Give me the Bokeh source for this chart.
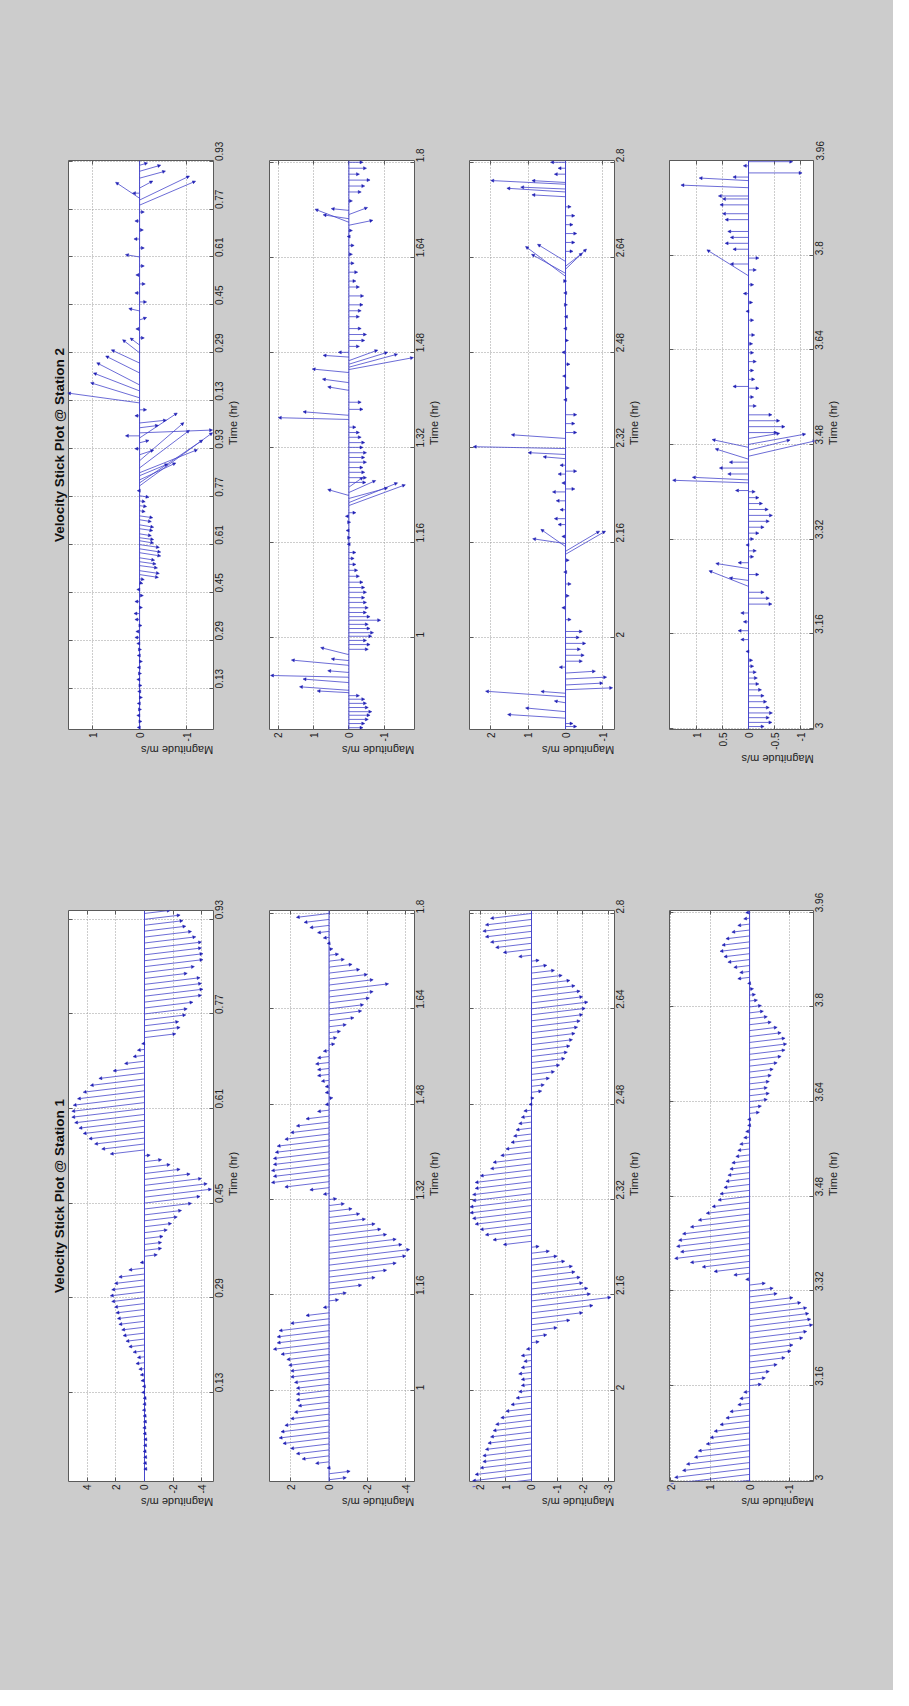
import math
from bokeh.plotting import figure
from bokeh.models import (Range1d, FixedTicker, LinearAxis, Title, Arrow,
                          NormalHead, ColumnDataSource, Span)
from bokeh.layouts import row, column
from bokeh.embed import file_html
from bokeh.resources import INLINE

# ------------------------------------------------------------------ data
STATION_TITLES = ["Velocity Stick Plot @ Station 2", "Velocity Stick Plot @ Station 1"]
TIME_LABEL = "Time (hr)"
MAG_LABEL = "Magnitude m/s"

# Station 1: regularly sampled north component, one list per panel
S1_SAMPLE_STEP = 0.01
S1_START = [0.00, 0.85, 1.85, 3.00]
S1P1_NORTH = [0.05, 0.08, 0.06, 0.1, 0.07, 0.05, 0.1, 0.12, 0.08, 0.1, 0.15, 0.12, 0.1, 0.2, 0.15, 0.25, 0.3, 0.4, 0.6, 0.5,
              0.8, 1.1, 1.3, 1.5, 1.6, 1.8, 1.9, 2.0, 2.1, 2.3, 2.4, 2.3, 2.1, 1.8, 1.1, 0.3,
              -0.9, -1.2, -1.2, -1.3, -1.6, -1.9, -2.3, -2.6, -3.3, -3.9, -4.7, -4.4, -4.0, -3.2, -2.5, -1.8, -1.2, -0.4,
              2.4, 3.0, 3.5, 3.9, 4.3, 4.6, 4.9, 5.1, 5.1, 5.0, 4.7, 4.3, 3.8, 3.2, 2.2, 1.4, 0.8, 0.5, 0.2,
              -2.2, -2.5, -2.4, -2.9, -3.0, -3.4, -4.0, -4.1, -4.0, -3.9, -3.0, -3.5, -4.1, -4.1, -4.0, -4.0, -3.6, -3.3,
              -2.9, -2.7, -2.5, -1.8]
S1P2_NORTH = [-0.9, -1.1, 0.1, 0.7, 1.4, 1.7, 2.0, 2.4, 2.6, 2.5, 2.3, 2.0, 1.8, 1.6, 1.7, 1.7, 1.7, 1.8, 2.0, 2.0,
              2.1, 2.2, 2.5, 2.9, 2.7, 2.7, 2.6, 2.0, 1.2, 0.3,
              -0.5, -0.9, -1.7, -2.4, -3.0, -3.5, -4.0, -4.2, -3.8, -3.5, -3.0, -2.7, -2.4, -1.9, -1.6, -1.2, -0.8, -0.4,
              0.3, 1.0, 2.3, 3.0, 2.9, 3.0, 2.9, 2.9, 2.8, 2.7, 2.3, 2.0, 1.7, 1.2, 0.6, 0.2,
              -0.2, 0.2, 0.2, 0.4, 0.6, 0.6, 0.7, 0.6, 0.3,
              -0.3, -0.4, -0.6, -0.9, -1.3, -1.7, -1.8, -2.1, -2.3, -3.1, -2.3, -2.0, -1.6, -1.2, -0.8, -0.5, -0.2,
              0.1, 0.3, 0.6, 1.0, 1.3, 1.7]
S1P3_NORTH = [2.3, 2.3, 2.2, 2.0, 1.9, 1.9, 1.8, 1.7, 1.6, 1.5, 1.4, 1.2, 1.0, 0.8, 0.6, 0.5, 0.4, 0.4, 0.5, 0.4, 0.3, 0.4, 0.2,
              -0.3, -0.6, -1.0, -1.5, -2.0, -2.4, -3.1, -2.3, -2.2, -2.0, -1.9, -1.7, -1.6, -1.3, -1.0, -0.7, -0.3,
              1.1, 1.5, 1.8, 2.0, 2.2, 2.3, 2.4, 2.4, 2.3, 2.3, 2.2, 2.2, 2.0, 1.6, 1.5, 1.2, 1.0, 0.8, 0.7, 0.6, 0.5,
              0.4, 0.3, 0.1,
              -0.1, -0.4, -0.5, -0.7, -0.9, -1.1, -1.3, -1.4, -1.5, -1.6, -1.7, -1.8, -1.9, -2.0, -2.1, -2.2, -2.0,
              -1.9, -1.7, -1.5, -1.2, -0.9, -0.6, -0.3,
              0.5, 1.1, 1.4, 1.6, 1.8, 1.9, 1.8, 1.6]
S1P4_NORTH = [2.1, 2.0, 1.9, 1.7, 1.6, 1.4, 1.3, 1.1, 1.0, 0.9, 0.75, 0.6, 0.5, 0.3, 0.25, 0.15,
              -0.3, -0.4, -0.5, -0.7, -0.9, -1.05, -1.1, -1.35, -1.45, -1.6, -1.55, -1.5, -1.45, -1.3, -1.1, -0.7,
              -0.6, -0.4,
              0.1, 0.4, 0.9, 1.2, 1.5, 1.9, 1.75, 1.85, 1.8, 1.7, 1.5, 1.3, 1.1, 0.95, 0.8, 0.75, 0.65, 0.6, 0.55,
              0.5, 0.45, 0.35, 0.3, 0.25, 0.15, 0.1, 0.05, 0.05,
              -0.25, -0.3, -0.45, -0.5, -0.45, -0.5, -0.55, -0.6, -0.7, -0.8, -0.9, -0.94, -0.9, -0.8, -0.7, -0.55,
              -0.45, -0.35, -0.3, -0.2, -0.15, -0.1,
              0.05, 0.3, 0.25, 0.4, 0.55, 0.65, 0.75, 0.7, 0.6, 0.45, 0.3, 0.15, 0.1]
S1_NORTH = [S1P1_NORTH, S1P2_NORTH, S1P3_NORTH, S1P4_NORTH]

# Station 2: irregular sticks (time, north, east)
S2P1 = [(0.00, 0.05, 0), (0.02, -0.05, 0), (0.04, 0.06, 0), (0.06, -0.04, 0), (0.08, 0.05, 0), (0.10, -0.06, 0),
        (0.12, 0.04, 0), (0.14, -0.05, 0), (0.16, 0.06, 0), (0.18, -0.04, 0), (0.20, 0.05, 0), (0.22, -0.06, 0),
        (0.24, 0.05, 0), (0.26, -0.04, 0), (0.28, 0.06, 0), (0.30, 0.1, 0), (0.32, 0.08, 0), (0.34, -0.05, 0),
        (0.36, 0.1, 0), (0.38, 0.12, 0), (0.40, -0.06, 0), (0.42, 0.1, 0), (0.44, -0.08, 0), (0.46, 0.06, 0),
        (0.483, -0.07, -0.02), (0.496, -0.1, -0.02), (0.51, -0.4, -0.06), (0.523, -0.42, -0.06), (0.54, -0.38, -0.05),
        (0.553, -0.35, -0.05), (0.566, -0.32, -0.05), (0.583, -0.45, -0.07), (0.596, -0.45, -0.07),
        (0.61, -0.42, -0.06), (0.623, -0.3, -0.05), (0.633, -0.3, -0.04), (0.646, -0.25, -0.04), (0.663, -0.28, -0.04),
        (0.676, -0.3, -0.05), (0.693, -0.25, -0.04), (0.706, -0.28, -0.04), (0.723, -0.12, -0.02), (0.74, -0.15, -0.02),
        (0.756, -0.12, -0.02), (0.773, -0.2, -0.03), (0.79, 0.05, 0), (0.806, -1.55, 1.13), (0.816, -1.34, 0.91),
        (0.826, -0.77, 0.36), (0.84, -0.6, 0.25), (0.85, -1.23, 0.49), (0.866, -1.06, 0.8), (0.89, -0.94, 0.81),
        (0.91, -0.3, 0.1), (0.93, 0.1, 0), (0.95, -0.2, 0.05), (0.966, -0.8, 0.53), (0.973, 0.3, 0),
        (0.983, -1.55, 0.06), (1.0, -0.4, 0.05), (1.016, -0.57, 0.06), (1.04, 0.1, 0), (1.06, -0.15, 0),
        (1.083, 1.53, 0.21), (1.1, 1.04, 0.32), (1.123, 0.98, 0.38), (1.143, 0.91, 0.47), (1.183, 0.72, 0.36),
        (1.216, 0.6, 0.28), (1.25, 0.36, 0.28), (1.276, 0.2, 0.15),
        (1.30, -0.1, 0), (1.33, 0.08, 0), (1.36, -0.15, 0.05), (1.39, 0.23, 0.05), (1.42, -0.15, 0), (1.45, 0.1, 0),
        (1.48, -0.12, 0), (1.51, 0.08, 0), (1.54, -0.1, 0), (1.57, 0.3, 0.05), (1.60, -0.1, 0), (1.63, 0.12, 0),
        (1.66, -0.08, 0), (1.69, 0.1, 0), (1.72, -0.1, 0),
        (1.743, -1.19, 0.51), (1.76, -1.06, 0.51), (1.766, 0.51, 0.34), (1.783, 0.15, 0), (1.8, -0.28, 0.15),
        (1.833, -0.55, 0.15), (1.856, -0.45, 0.13), (1.876, -0.17, 0.05)]
S2P2 = [(0.848, -0.4, 0), (0.855, -0.45, 0), (0.862, -0.55, 0), (0.869, -0.6, 0), (0.875, -0.65, 0), (0.882, -0.55, 0),
        (0.889, -0.5, 0), (0.896, -0.45, 0), (0.902, -0.3, 0), (0.907, 0.9, 0.05), (0.911, 1.4, 0.1), (0.924, 1.3, 0.1),
        (0.933, 2.22, 0.05), (0.941, 0.6, 0.05), (0.953, 1.63, 0.15), (0.961, 0.5, 0.05), (0.971, 0.8, 0.2),
        (0.98, -0.55, 0), (0.988, -0.6, 0), (0.995, -0.5, 0), (1.002, -0.65, 0), (1.008, -0.7, 0), (1.015, -0.6, 0),
        (1.022, -0.55, 0), (1.029, -0.9, 0), (1.035, -0.6, 0), (1.042, -0.5, 0), (1.05, -0.55, 0), (1.059, -0.5, 0),
        (1.067, -0.45, 0), (1.076, -0.5, 0), (1.084, -0.45, 0), (1.093, -0.4, 0), (1.103, -0.3, 0), (1.113, -0.25, 0),
        (1.123, -0.2, 0), (1.133, -0.15, 0), (1.143, -0.2, 0), (1.157, 0.05, 0), (1.168, -0.05, 0), (1.18, 0.08, 0),
        (1.194, -0.05, 0), (1.204, 0.1, 0), (1.21, -0.2, 0), (1.222, -1.6, 0.59), (1.227, -1.38, 0.56),
        (1.234, -1.1, 0.3), (1.239, 0.6, 0.17), (1.244, -0.76, 0.34), (1.253, -0.4, 0.28), (1.261, -0.48, 0),
        (1.269, -0.5, 0), (1.278, -0.45, 0), (1.286, -0.4, 0), (1.295, -0.5, 0), (1.303, -0.45, 0), (1.311, -0.5, 0),
        (1.32, -0.4, 0), (1.328, -0.45, 0), (1.337, -0.35, 0), (1.345, -0.3, 0), (1.354, -0.2, 0), (1.367, 2.0, 0.05),
        (1.374, 1.3, 0.1), (1.384, -0.4, 0), (1.396, -0.35, 0), (1.416, 0.6, 0.1), (1.429, 0.75, 0.1),
        (1.446, 1.04, 0.1), (1.451, -1.83, 0.34), (1.455, -1.38, 0.37), (1.46, -1.1, 0.34), (1.466, -0.82, 0.3),
        (1.472, 0.73, 0.05), (1.48, 0.3, 0), (1.49, -0.3, 0), (1.50, -0.45, 0), (1.51, -0.5, 0), (1.52, -0.35, 0),
        (1.54, -0.3, 0), (1.55, -0.35, 0), (1.56, -0.4, 0), (1.575, -0.42, 0), (1.59, -0.3, 0), (1.60, -0.2, 0),
        (1.615, -0.25, 0), (1.63, -0.15, 0), (1.645, -0.1, 0), (1.66, -0.15, 0), (1.675, 0.05, 0), (1.685, -0.1, 0),
        (1.694, -0.68, 0.14), (1.699, 0.96, 0.37), (1.705, 0.73, 0.11), (1.712, -0.53, 0.2), (1.719, 0.5, 0.05),
        (1.735, -0.1, 0), (1.75, -0.35, 0), (1.76, -0.45, 0), (1.77, -0.6, 0), (1.78, -0.3, 0), (1.79, -0.5, 0),
        (1.80, -0.4, 0)]
S2P3 = [(1.85, -0.3, 0), (1.855, -0.2, 0), (1.864, 1.55, 0.1), (1.875, 1.07, 0.1), (1.89, 0.3, 0.05),
        (1.9, 2.14, 0.15), (1.906, 0.66, 0.05), (1.912, -1.26, 0.05), (1.92, -1.0, 0.05), (1.93, -1.1, 0.05),
        (1.94, -0.8, 0.05), (1.95, 0.17, 0), (1.96, -0.45, 0), (1.97, -0.5, 0), (1.98, -0.4, 0), (1.99, -0.54, 0),
        (2.0, -0.37, 0), (2.01, -0.45, 0), (2.03, -0.15, 0), (2.05, 0.1, 0), (2.07, -0.1, 0), (2.09, -0.15, 0),
        (2.11, 0.05, 0), (2.13, -0.1, 0), (2.14, -1.07, 0.62), (2.145, -0.91, 0.54), (2.153, 0.66, 0.46),
        (2.158, 0.88, 0.13), (2.17, 0.1, 0), (2.19, 0.2, 0), (2.2, 0.3, 0), (2.215, 0.15, 0), (2.23, 0.25, 0),
        (2.245, 0.35, 0), (2.25, -0.25, 0), (2.26, 0.1, 0), (2.275, 0.2, 0), (2.28, -0.3, 0), (2.29, 0.15, 0),
        (2.301, 0.6, 0.05), (2.308, 1.0, 0.05), (2.318, 2.47, 0.05), (2.335, 1.45, 0.1), (2.345, -0.3, 0),
        (2.36, -0.25, 0), (2.375, -0.3, 0), (2.40, 0.05, 0), (2.42, -0.1, 0), (2.44, 0.08, 0), (2.46, -0.12, 0),
        (2.48, 0.1, 0), (2.50, -0.08, 0), (2.52, 0.05, 0), (2.54, 0.03, 0), (2.56, -0.05, 0), (2.58, 0.05, 0),
        (2.60, -0.03, 0), (2.608, 1.07, 0.8), (2.613, 0.91, 0.51), (2.62, -0.56, 0.54), (2.625, -0.45, 0.35),
        (2.633, 0.75, 0.46), (2.65, -0.2, 0), (2.665, -0.25, 0), (2.68, -0.3, 0), (2.695, -0.2, 0), (2.71, -0.25, 0),
        (2.725, -0.15, 0), (2.742, 0.9, 0.05), (2.75, 1.57, 0.1), (2.755, 1.2, 0.05), (2.763, 2.0, 0.1),
        (2.766, 0.9, 0.05), (2.78, 0.3, 0), (2.79, 0.2, 0), (2.80, 0.4, 0)]
S2P4 = [(3.003, -0.3, 0), (3.01, -0.45, 0), (3.018, -0.4, 0), (3.026, -0.46, 0), (3.035, -0.4, 0), (3.045, -0.35, 0),
        (3.055, -0.3, 0), (3.065, -0.25, 0), (3.075, -0.2, 0), (3.085, -0.17, 0), (3.095, -0.15, 0), (3.105, -0.1, 0),
        (3.115, -0.08, 0), (3.13, 0.05, 0), (3.15, 0.15, 0), (3.165, 0.2, 0), (3.18, 0.1, 0), (3.195, 0.15, 0),
        (3.21, -0.45, 0), (3.22, -0.4, 0), (3.23, -0.3, 0), (3.24, 0.76, 0.3), (3.25, 0.37, 0.05), (3.26, -0.2, 0),
        (3.27, 0.63, 0.1), (3.28, 0.2, 0), (3.29, -0.1, 0), (3.30, -0.15, 0), (3.31, 0.05, 0), (3.32, -0.1, 0),
        (3.33, -0.2, 0), (3.34, -0.3, 0), (3.35, -0.4, 0), (3.36, -0.46, 0), (3.37, -0.38, 0), (3.38, -0.27, 0),
        (3.39, -0.2, 0), (3.40, -0.13, 0), (3.402, 0.25, 0), (3.415, 1.46, 0.05), (3.42, 1.08, 0.05), (3.43, 0.4, 0),
        (3.44, 0.56, 0), (3.45, 0.37, 0), (3.455, 0.64, 0.2), (3.46, -1.3, 0.3), (3.47, -0.8, 0.2), (3.475, 0.7, 0.15),
        (3.48, -1.1, 0.2), (3.49, -0.6, 0.1), (3.50, -0.55, 0), (3.51, -0.7, 0), (3.52, -0.6, 0), (3.53, -0.45, 0),
        (3.545, -0.15, 0), (3.56, -0.1, 0), (3.575, -0.2, 0), (3.578, 0.3, 0), (3.59, -0.12, 0), (3.605, -0.1, 0),
        (3.62, -0.15, 0), (3.635, -0.1, 0), (3.65, -0.08, 0), (3.665, -0.12, 0), (3.69, -0.1, 0), (3.705, 0.05, 0),
        (3.72, -0.08, 0), (3.735, 0.1, 0), (3.75, -0.1, 0), (3.765, 0.8, 0.5), (3.775, -0.15, 0), (3.785, 0.35, 0),
        (3.795, -0.2, 0), (3.81, 0.3, 0), (3.82, 0.45, 0), (3.83, 0.35, 0), (3.84, 0.4, 0), (3.86, 0.45, 0),
        (3.87, 0.5, 0), (3.885, 0.55, 0), (3.895, 0.5, 0), (3.9, 0.58, 0), (3.914, 1.3, 0.05), (3.926, 0.95, 0.05),
        (3.932, 0.3, 0), (3.939, -1.03, 0), (3.951, 0.1, 0), (3.958, -0.85, 0)]
S2_STICKS = [S2P1, S2P2, S2P3, S2P4]

# tick values / labels
TIME_TICKS_P2 = [1.0, 1.16, 1.32, 1.48, 1.64, 1.8]
TIME_LABELS_P2 = ["1", "1.16", "1.32", "1.48", "1.64", "1.8"]
TIME_TICKS_P3 = [2.0, 2.16, 2.32, 2.48, 2.64, 2.8]
TIME_LABELS_P3 = ["2", "2.16", "2.32", "2.48", "2.64", "2.8"]
TIME_TICKS_P4 = [3.0, 3.16, 3.32, 3.48, 3.64, 3.8, 3.96]
TIME_LABELS_P4 = ["3", "3.16", "3.32", "3.48", "3.64", "3.8", "3.96"]
S1_TIME_TICKS = [[0.13, 0.29, 0.45, 0.61, 0.77, 0.93], TIME_TICKS_P2, TIME_TICKS_P3, TIME_TICKS_P4]
S1_TIME_LABELS = [["0.13", "0.29", "0.45", "0.61", "0.77", "0.93"], TIME_LABELS_P2, TIME_LABELS_P3, TIME_LABELS_P4]
S2_TIME_TICKS = [[0.13, 0.29, 0.45, 0.61, 0.77, 0.93, 1.09, 1.25, 1.41, 1.57, 1.73, 1.89],
                 TIME_TICKS_P2, TIME_TICKS_P3, TIME_TICKS_P4]
S2_TIME_LABELS = [["0.13", "0.29", "0.45", "0.61", "0.77", "0.93", "0.13", "0.29", "0.45", "0.61", "0.77", "0.93"],
                  TIME_LABELS_P2, TIME_LABELS_P3, TIME_LABELS_P4]
S1_MAG_TICKS = [[4, 2, 0, -2, -4], [2, 0, -2, -4], [2, 1, 0, -1, -2, -3], [2, 1, 0, -1]]
S1_MAG_LABELS = [["4", "2", "0", "-2", "-4"], ["2", "0", "-2", "-4"], ["2", "1", "0", "-1", "-2", "-3"],
                 ["2", "1", "0", "-1"]]
S2_MAG_TICKS = [[1, 0, -1], [2, 1, 0, -1], [2, 1, 0, -1], [1, 0.5, 0, -0.5, -1]]
S2_MAG_LABELS = [["1", "0", "-1"], ["2", "1", "0", "-1"], ["2", "1", "0", "-1"], ["1", "0.5", "0", "-0.5", "-1"]]

# ------------------------------------------------------------------ view / style
S1_XR = [(5.33, -4.84), (3.1, -4.45), (2.42, -3.24), (2.03, -1.62)]
S1_YR = [(-0.021, 0.945), (0.847, 1.805), (1.847, 2.805), (2.998, 3.963)]
S2_XR = [(1.51, -1.57), (2.25, -1.86), (2.57, -1.31), (1.52, -1.25)]
S2_YR = [(-0.007, 1.892), (0.845, 1.803), (1.845, 2.803), (2.998, 3.96)]

GRAY = "#cccccc"
FONT = "Liberation Sans"
BOX = "#5a5a5a"
TXT = "#222222"
STICK = "#4646cc"
HEAD = "#2020b4"
GRID = "#9a9a9a"
STICK_SLOPE = 0.12   # drawn tilt of station-1 sticks (px vertical per px horizontal)

WIDTHS = [250, 200, 200, 243]
LEFTS = [68, 19, 19, 19]
RIGHTS = [37, 36, 36, 80]
ROW_H = [789, 901]
TOPS = [160, 121]
BOTTOMS = [60, 209]
BG_STYLE = {"background-color": GRAY}


def tick_only_axis(ticks):
    ax = LinearAxis(ticker=FixedTicker(ticks=ticks))
    ax.major_label_overrides = {t: "" for t in ticks}
    ax.major_label_text_font_size = "0px"
    ax.major_label_standoff = 0
    ax.major_tick_in = 4
    ax.major_tick_out = 0
    ax.major_tick_line_color = BOX
    ax.minor_tick_line_color = None
    ax.axis_line_color = None
    return ax


def set_orient(ax, angle):
    try:
        ax.axis_label_orientation = angle
    except Exception:
        pass


def panel(col, rw, xr, yr, mag_ticks, mag_labels, time_ticks, time_labels, t, n, e, title=None):
    w, h = WIDTHS[col], ROW_H[rw]
    p = figure(width=w, height=h, x_range=Range1d(*xr), y_range=Range1d(*yr),
               output_backend="svg", toolbar_location=None, tools="",
               x_axis_location=None, y_axis_location=None,
               min_border_left=LEFTS[col], min_border_right=RIGHTS[col],
               min_border_top=TOPS[rw], min_border_bottom=BOTTOMS[rw],
               border_fill_color=GRAY, background_fill_color="white",
               outline_line_color=BOX, outline_line_width=1, styles=BG_STYLE)
    p.xgrid.ticker = FixedTicker(ticks=mag_ticks)
    p.ygrid.ticker = FixedTicker(ticks=time_ticks)
    for g in (p.xgrid, p.ygrid):
        g.grid_line_color = GRID
        g.grid_line_dash = "1 2"
        g.grid_line_width = 1

    # magnitude axis (below)
    bx = LinearAxis(ticker=FixedTicker(ticks=mag_ticks), axis_label=MAG_LABEL)
    bx.major_label_overrides = dict(zip(mag_ticks, mag_labels))
    bx.major_label_orientation = math.pi / 2
    bx.major_label_standoff = 3
    bx.axis_label_standoff = 6
    set_orient(bx, math.pi)
    # time axis (right)
    ry = LinearAxis(ticker=FixedTicker(ticks=time_ticks), axis_label=TIME_LABEL)
    ry.major_label_overrides = dict(zip(time_ticks, time_labels))
    ry.major_label_orientation = math.pi / 2
    ry.major_label_standoff = 6
    ry.axis_label_standoff = 2
    set_orient(ry, math.pi / 2)
    for ax in (bx, ry):
        ax.major_label_text_font = FONT
        ax.major_label_text_font_size = "10px"
        ax.major_label_text_color = TXT
        ax.axis_label_text_font = FONT
        ax.axis_label_text_font_size = "11px"
        ax.axis_label_text_font_style = "normal"
        ax.axis_label_text_color = TXT
        ax.major_tick_in = 4
        ax.major_tick_out = 0
        ax.major_tick_line_color = BOX
        ax.minor_tick_line_color = None
        ax.axis_line_color = None
    p.add_layout(bx, "below")
    p.add_layout(ry, "right")
    p.add_layout(tick_only_axis(mag_ticks), "above")
    p.add_layout(tick_only_axis(time_ticks), "left")

    if title is not None:
        p.add_layout(Title(text=title, align="center", text_font=FONT, text_font_size="13.5px",
                           text_font_style="bold", text_color="#111111", standoff=4), "left")

    p.add_layout(Span(location=0, dimension="height", line_color=STICK, line_width=1))

    # sticks: scale the east component with the same pixel scale as north
    fw = w - LEFTS[col] - RIGHTS[col]
    fh = h - TOPS[rw] - BOTTOMS[rw]
    px_per_ms = fw / abs(xr[0] - xr[1])
    px_per_hr = fh / abs(yr[1] - yr[0])
    k = px_per_ms / px_per_hr
    src = ColumnDataSource(dict(x0=[0.0] * len(t), y0=list(t), x1=list(n),
                                y1=[ti + ei * k for ti, ei in zip(t, e)]))
    p.add_layout(Arrow(end=NormalHead(size=3, fill_color=HEAD, line_color=HEAD, line_width=0.5),
                       x_start="x0", y_start="y0", x_end="x1", y_end="y1", source=src,
                       line_color=STICK, line_width=0.8))
    return p


rows = []
# station 2 (top row)
figs = []
for i in range(4):
    t = [s[0] for s in S2_STICKS[i]]
    n = [s[1] for s in S2_STICKS[i]]
    e = [s[2] for s in S2_STICKS[i]]
    figs.append(panel(i, 0, S2_XR[i], S2_YR[i], S2_MAG_TICKS[i], S2_MAG_LABELS[i],
                      S2_TIME_TICKS[i], S2_TIME_LABELS[i], t, n, e,
                      title=STATION_TITLES[0] if i == 0 else None))
rows.append(row(*figs, spacing=0, styles=BG_STYLE))
# station 1 (bottom row)
figs = []
for i in range(4):
    n = S1_NORTH[i]
    t = [round(S1_START[i] + S1_SAMPLE_STEP * j, 3) for j in range(len(n))]
    e = [-STICK_SLOPE * v for v in n]
    figs.append(panel(i, 1, S1_XR[i], S1_YR[i], S1_MAG_TICKS[i], S1_MAG_LABELS[i],
                      S1_TIME_TICKS[i], S1_TIME_LABELS[i], t, n, e,
                      title=STATION_TITLES[1] if i == 0 else None))
rows.append(row(*figs, spacing=0, styles=BG_STYLE))

layout = column(*rows, spacing=0, styles=BG_STYLE)
open("out.html", "w").write(file_html(layout, INLINE, title="Velocity Stick Plots"))
